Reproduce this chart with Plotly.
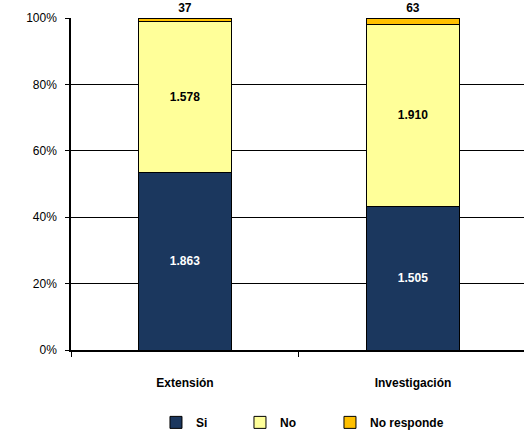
import plotly.graph_objects as go

categories = ["Extensión", "Investigación"]
si = [1863, 1505]
no = [1578, 1910]
no_responde = [37, 63]
y_ticks = [0, 20, 40, 60, 80, 100]
y_tick_labels = ["0%", "20%", "40%", "60%", "80%", "100%"]


def fmt(v):
    # thousands separator with a dot, as in the original
    return f"{v:,}".replace(",", ".")


FONT = "Liberation Sans, Arial, sans-serif"

fig = go.Figure()
fig.add_bar(
    name="Si", x=categories, y=si, marker_color="#1B375E", legend="legend",
    text=[fmt(v) for v in si], textposition="inside", insidetextanchor="middle",
    textfont=dict(color="white", size=12, family=FONT, weight="bold"),
)
fig.add_bar(
    name="No", x=categories, y=no, marker_color="#FFFF99", legend="legend2",
    text=[fmt(v) for v in no], textposition="inside", insidetextanchor="middle",
    textfont=dict(color="black", size=12, family=FONT, weight="bold"),
)
fig.add_bar(
    name="No responde", x=categories, y=no_responde, marker_color="#FFC000",
    legend="legend3",
    text=[fmt(v) for v in no_responde], textposition="outside", cliponaxis=False,
    textfont=dict(color="black", size=12, family=FONT, weight="bold"),
)
fig.update_traces(marker_line=dict(color="black", width=1), width=0.41,
                  constraintext="none", textangle=0, showlegend=True)

# one small legend per series so the entries can be spaced like the original
legend_style = dict(orientation="h", xanchor="left", y=-0.218, yanchor="middle",
                    font=dict(size=12, weight="bold"), itemwidth=30)

fig.update_layout(
    width=524, height=433, showlegend=True,
    barmode="stack", barnorm="percent",
    paper_bgcolor="white", plot_bgcolor="white",
    margin=dict(l=71, r=0, t=18, b=83, autoexpand=False),
    font=dict(family=FONT, size=12, color="black"),
    uniformtext=dict(minsize=8, mode="show"),
    legend=dict(x=0.1876, **legend_style),
    legend2=dict(x=0.373, **legend_style),
    legend3=dict(x=0.5717, **legend_style),
    xaxis=dict(
        range=[-0.5, 1.487], showline=True, linecolor="black", linewidth=2,
        ticks="outside", tickson="boundaries", ticklen=5, tickcolor="black",
        ticklabelstandoff=21, tickfont=dict(size=12, weight="bold"),
        showgrid=False,
    ),
    yaxis=dict(
        range=[0, 100], tickvals=y_ticks, ticktext=y_tick_labels,
        showline=True, linecolor="black", linewidth=1.5,
        ticks="outside", ticklen=4, tickcolor="black", ticklabelstandoff=6,
        showgrid=True, gridcolor="black", gridwidth=1,
        tickfont=dict(size=12),
    ),
)

# drop the default 8px body margin so the figure sits at the window corner
fig.write_html("out.html", config={"displayModeBar": False},
               post_script="document.body.style.margin = '0';")
